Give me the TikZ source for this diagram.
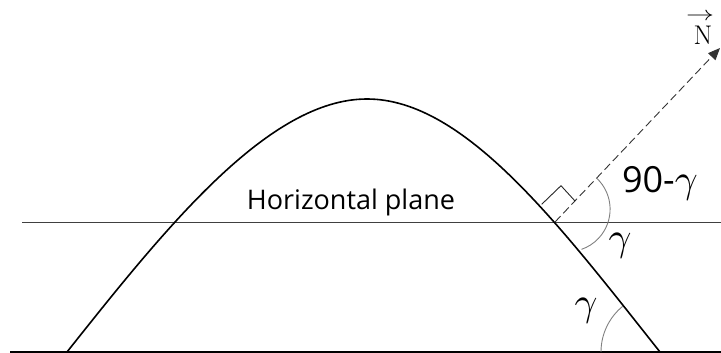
\documentclass[tikz,border=0pt]{standalone}
\usepackage{fontspec}
\newfontfamily\labelfont{Open Sans}
\usetikzlibrary{arrows.meta}
\newcommand{\biggamma}{{\fontsize{10}{12}\selectfont\scalebox{4}{$\gamma$}}}
\begin{document}
\begin{tikzpicture}[x=1pt,y=1pt,
  surface/.style={line width=1.6pt,black},
  planeline/.style={line width=0.9pt,black!75},
  groundline/.style={line width=1.6pt,black},
  anglearc/.style={line width=0.9pt,black!50},
  normalline/.style={line width=0.9pt,black!80,dash pattern=on 8pt off 4pt,-{Triangle[length=12pt,width=10pt]}},
  rightmark/.style={line width=0.9pt,black!85},
  lbl/.style={inner sep=0pt,outer sep=0pt}]
\useasboundingbox (0,0) rectangle (721,353);
% lines
\coordinate (hl) at (22,131);
\coordinate (hr) at (721,131);
\coordinate (gl) at (10,1);
\coordinate (gr) at (721,1);
\draw[planeline] (hl) -- (hr);
\draw[groundline] (gl) -- (gr);
% curve
\coordinate (cl) at (67,1);
\coordinate (peak) at (367,254);
\coordinate (cr) at (660,1);
\draw[surface] (cl) .. controls (167,127) and (269,254) .. (peak)
  .. controls (465,254) and (560,127) .. (cr);
% normal
\coordinate (F) at (555,131);
\coordinate (tip) at (720,305);
\draw[normalline] (F) -- (tip);
% right angle mark
\coordinate (sqA) at (541.7,148.7);
\coordinate (sqC) at (561,167.3);
\coordinate (sqB) at (575,152);
\draw[rightmark] (sqA) -- (sqC) -- (sqB);
% arcs
\coordinate (arcc) at (567.6,143.8);
\draw[anglearc] (arcc) ++(46.7:42.5) arc[start angle=46.7, end angle=-70.9, radius=42.5];
\draw[anglearc] (cr) ++(129.2:59) arc[start angle=129.2, end angle=180, radius=59];
% labels
\node[lbl,anchor=base] (hp) at (351,143) {\fontsize{27}{30}\selectfont\labelfont Horizontal plane};
\node[lbl,anchor=base west] (ninety) at (622,160) {\fontsize{36}{40}\selectfont\labelfont 90-\biggamma};
\node[lbl,anchor=base] (g1) at (620,102) {\biggamma};
\node[lbl,anchor=base] (g2) at (586,37) {\biggamma};
\node[lbl,anchor=base] (nlab) at (703,308) {\fontsize{27}{30}\selectfont N};
\node[lbl,anchor=center] (narrow) at (700,336) {\scalebox{2.8}[2]{$\rightarrow$}};
\end{tikzpicture}
\end{document}
